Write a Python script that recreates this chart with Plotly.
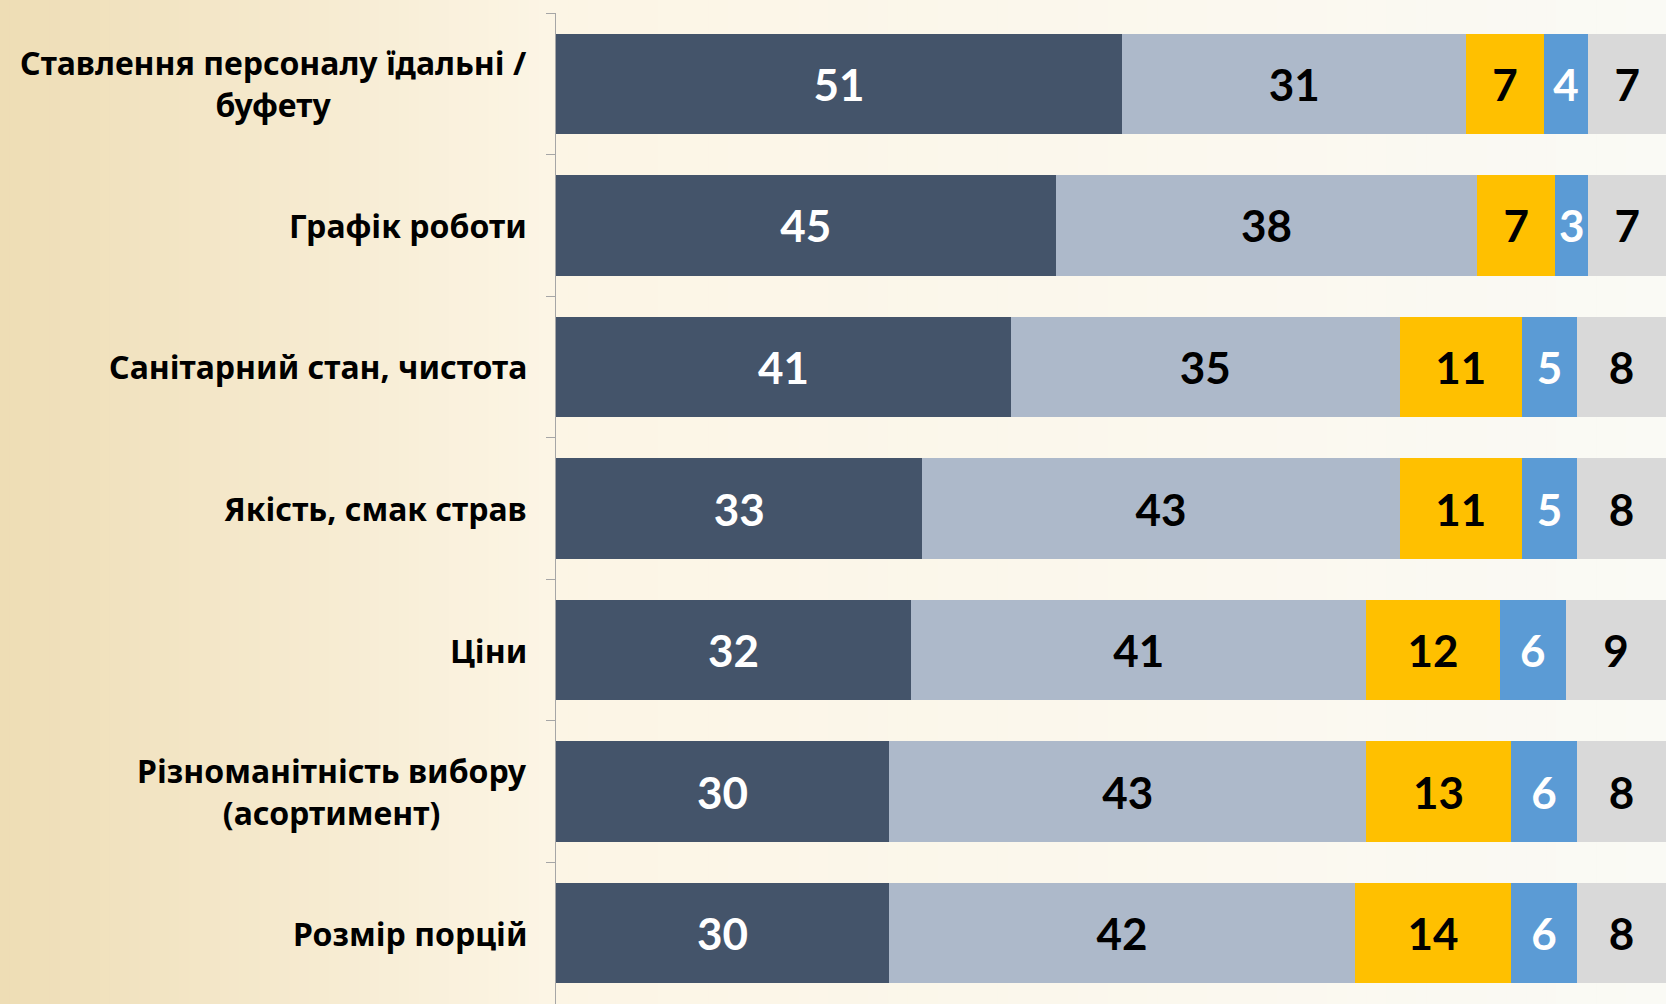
import plotly.graph_objects as go

categories = [
    "Ставлення персоналу їдальні /<br>буфету",
    "Графік роботи",
    "Санітарний стан, чистота",
    "Якість, смак страв",
    "Ціни",
    "Різноманітність вибору<br>(асортимент)",
    "Розмір порцій",
]
series_names = ["Серія 1", "Серія 2", "Серія 3", "Серія 4", "Серія 5"]
s1 = [51, 45, 41, 33, 32, 30, 30]
s2 = [31, 38, 35, 43, 41, 43, 42]
s3 = [7, 7, 11, 11, 12, 13, 14]
s4 = [4, 3, 5, 5, 6, 6, 6]
s5 = [7, 7, 8, 8, 9, 8, 8]
series_values = [s1, s2, s3, s4, s5]

colors = ["#44546A", "#ADB9CA", "#FFC000", "#5B9BD5", "#D9D9D9"]
text_colors = ["#FFFFFF", "#000000", "#000000", "#FFFFFF", "#000000"]

W, H = 1666, 1004
ML, MR, MT, MB = 556, 0, 13, 0

fig = go.Figure()
for name, vals, c, tc in zip(series_names, series_values, colors, text_colors):
    fig.add_trace(go.Bar(
        y=categories, x=vals, name=name, orientation="h",
        marker=dict(color=c, line=dict(width=0)),
        text=[str(v) for v in vals], textposition="inside",
        insidetextanchor="middle", textangle=0,
        textfont=dict(family="Lato", size=44, color=tc, weight="bold"),
        cliponaxis=False, hoverinfo="skip",
    ))

# background gradient via thin strips
stops = [(0.0, (238, 221, 181)), (0.33, (252, 245, 229)), (1.0, (250, 250, 245))]
def col_at(t):
    for (a, ca), (b, cb) in zip(stops[:-1], stops[1:]):
        if a <= t <= b:
            f = (t - a) / (b - a)
            return tuple(round(ca[i] + (cb[i] - ca[i]) * f) for i in range(3))
    return stops[-1][1]

pw = W - ML - MR
N = 167
shapes = []
for i in range(N):
    x0p = i * W / N
    x1p = (i + 1) * W / N + 1
    c = col_at((x0p + x1p) / 2 / W)
    shapes.append(dict(
        type="rect", xref="paper", yref="paper", layer="below",
        x0=(x0p - ML) / pw, x1=(x1p - ML) / pw, y0=-0.05, y1=1.05,
        fillcolor="rgb(%d,%d,%d)" % c, line=dict(width=0),
    ))

annotations = []
for cat in categories:
    annotations.append(dict(
        x=0, xref="paper", y=cat, yref="y", text="<b>" + cat + "</b>",
        showarrow=False, xanchor="right", align="center", xshift=-27,
        font=dict(family="Noto Sans", size=32, color="#000000"),
    ))

fig.update_layout(
    width=W, height=H, barmode="stack", bargap=0.29,
    margin=dict(l=ML, r=MR, t=MT, b=MB, pad=0),
    paper_bgcolor="rgba(0,0,0,0)", plot_bgcolor="rgba(0,0,0,0)",
    showlegend=False, shapes=shapes, annotations=annotations,
    uniformtext=dict(minsize=44, mode="show"),
    xaxis=dict(range=[0, 100], visible=False, fixedrange=True),
    yaxis=dict(
        autorange="reversed", showticklabels=False, tickson="boundaries",
        ticks="outside", ticklen=9, tickcolor="#A6A6A6", tickwidth=1,
        showline=True, linecolor="#A6A6A6", linewidth=1, showgrid=False,
        zeroline=False, fixedrange=True,
    ),
)

fig.write_html(
    "out.html",
    config={"displayModeBar": False},
    post_script="document.body.style.margin='0';document.body.style.overflow='hidden';",
)
